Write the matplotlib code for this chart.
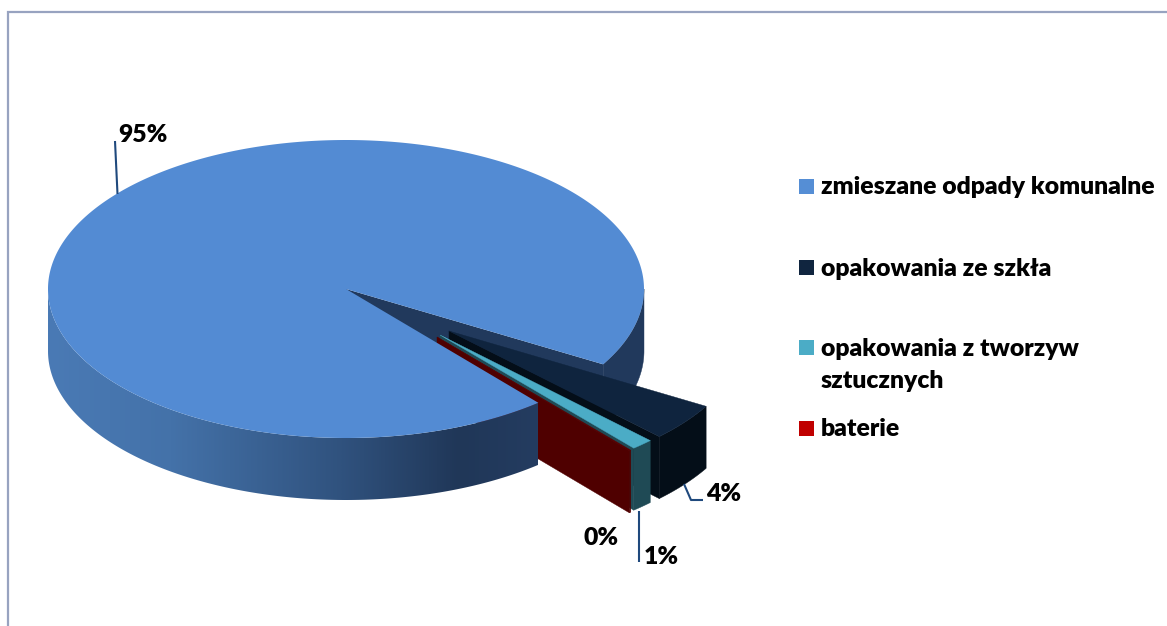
import numpy as np
import matplotlib
matplotlib.use("Agg")
import matplotlib.pyplot as plt
from matplotlib.patches import Polygon, Rectangle
from matplotlib.colors import LinearSegmentedColormap

categories = ["zmieszane odpady komunalne", "opakowania ze szkła",
              "opakowania z tworzyw\nsztucznych", "baterie"]
shares = [94.6, 4.1, 1.2, 0.1]
pct_labels = ["95%", "4%", "1%", "0%"]

top_colors = ["#538bd3", "#0f243e", "#4bacc6", "#5a0000"]
wall_colors = ["#21395c", "#040e18", "#1f4a55", "#4f0000"]
legend_colors = ["#558ed5", "#10253f", "#4bacc6", "#c00000"]

W, H = 1167, 626
CX, CY, RX, RY, DEPTH = 346, 289, 298, 149, 62
START = -49.8
APEX = [(346, 289), (449, 331), (440, 335), (437, 337)]
FS = 17.8

plt.rcParams["font.family"] = ["Lato", "DejaVu Sans"]
fig = plt.figure(figsize=(W / 100, H / 100), dpi=100, facecolor="white")
ax = fig.add_axes([0, 0, 1, 1])
ax.set_xlim(0, W)
ax.set_ylim(H, 0)
ax.axis("off")

# angular spans, clockwise from START
spans = 360 * np.array(shares) / np.sum(shares)
ends = START - np.cumsum(spans)
starts = ends + spans


def pt(apex, deg):
    a = np.radians(deg)
    return np.array([apex[0] + RX * np.cos(a), apex[1] - RY * np.sin(a)])


def arc(apex, a0, a1, n=400):
    t = np.radians(np.linspace(a0, a1, n))
    return np.column_stack([apex[0] + RX * np.cos(t), apex[1] - RY * np.sin(t)])


down = np.array([0, DEPTH])

# frame
ax.plot([8, 8, W], [H, 11.5, 11.5], color="#98a3c0", lw=1.6, solid_joinstyle="miter", zorder=1)

# largest slice: walls behind the exploded slices
main_end = ends[0] + 360
main_start = starts[0]
ap = APEX[0]
e = pt(ap, main_end)
ax.add_patch(Polygon([ap, e, e + down, np.array(ap) + down], fc=wall_colors[0], ec="none", zorder=2))
top = arc(ap, main_end, 0)
ax.add_patch(Polygon(np.vstack([top, (top + down)[::-1]]), fc=wall_colors[0], ec=wall_colors[0], lw=.3, zorder=2))

# exploded slices: walls
for i in (1, 2, 3):
    sp = APEX[i]
    a0, a1 = starts[i], ends[i]
    z = 3 + i / 10
    p1 = pt(sp, a1)
    ax.add_patch(Polygon([sp, p1, p1 + down, np.array(sp) + down],
                         fc=wall_colors[i], ec=wall_colors[i], lw=.3, zorder=z))
    o = arc(sp, a0, a1, 60)
    ax.add_patch(Polygon(np.vstack([o, (o + down)[::-1]]),
                         fc=wall_colors[i], ec=wall_colors[i], lw=.3, zorder=z))

# largest slice: shaded front wall and top
top = arc(ap, main_start, -180)
wall = Polygon(np.vstack([top, (top + down)[::-1]]), fc="none", ec="none", zorder=4)
ax.add_patch(wall)
cmap = LinearSegmentedColormap.from_list(
    "w", [(0, "#4a7ab5"), (0.25, "#4472a9"), (0.6, "#30527e"), (0.84, "#203758"), (1, "#243c60")])
im = ax.imshow(np.linspace(0, 1, 512)[None, :], cmap=cmap, aspect="auto",
               extent=(48, 538, 510, 280), zorder=4)
im.set_clip_path(wall)
ax.set_xlim(0, W)
ax.set_ylim(H, 0)
t = arc(ap, main_end, main_start + 360 if main_start < main_end else main_start, 1200)
ax.add_patch(Polygon(np.vstack([[ap], t]), fc=top_colors[0], ec="none", zorder=5))

# exploded slices: tops
for i in (1, 2, 3):
    sp = APEX[i]
    o = arc(sp, starts[i], ends[i], 60)
    ax.add_patch(Polygon(np.vstack([[sp], o]), fc=top_colors[i], ec=top_colors[i], lw=.3, zorder=6 + i / 10))

# leader lines
lead = dict(color="#1f497d", lw=1.5, zorder=12, solid_capstyle="butt")
ax.plot([115, 117.5], [141, 194], **lead)
ax.plot([684, 691, 703], [484, 500, 500], **lead)
ax.plot([639, 639], [511, 562], **lead)

# value labels
tx = dict(fontsize=FS, fontweight=800, color="black", ha="left", va="center", zorder=13)
ax.text(118, 135, pct_labels[0], **tx)
ax.text(706, 494, pct_labels[1], **tx)
ax.text(644, 557, pct_labels[2], **tx)
ax.text(584, 538, pct_labels[3], **tx)

# legend
for c, col, ys in zip(categories, legend_colors, [179, 260, 340, 421]):
    ax.add_patch(Rectangle((799, ys), 15, 15, fc=col, ec="none", zorder=13))
    lines = c.split("\n")
    for k, s in enumerate(lines):
        ax.text(821, ys + 8.5 + k * 32.5, s, **tx)

fig.savefig("out.png", dpi=100, facecolor="white")
